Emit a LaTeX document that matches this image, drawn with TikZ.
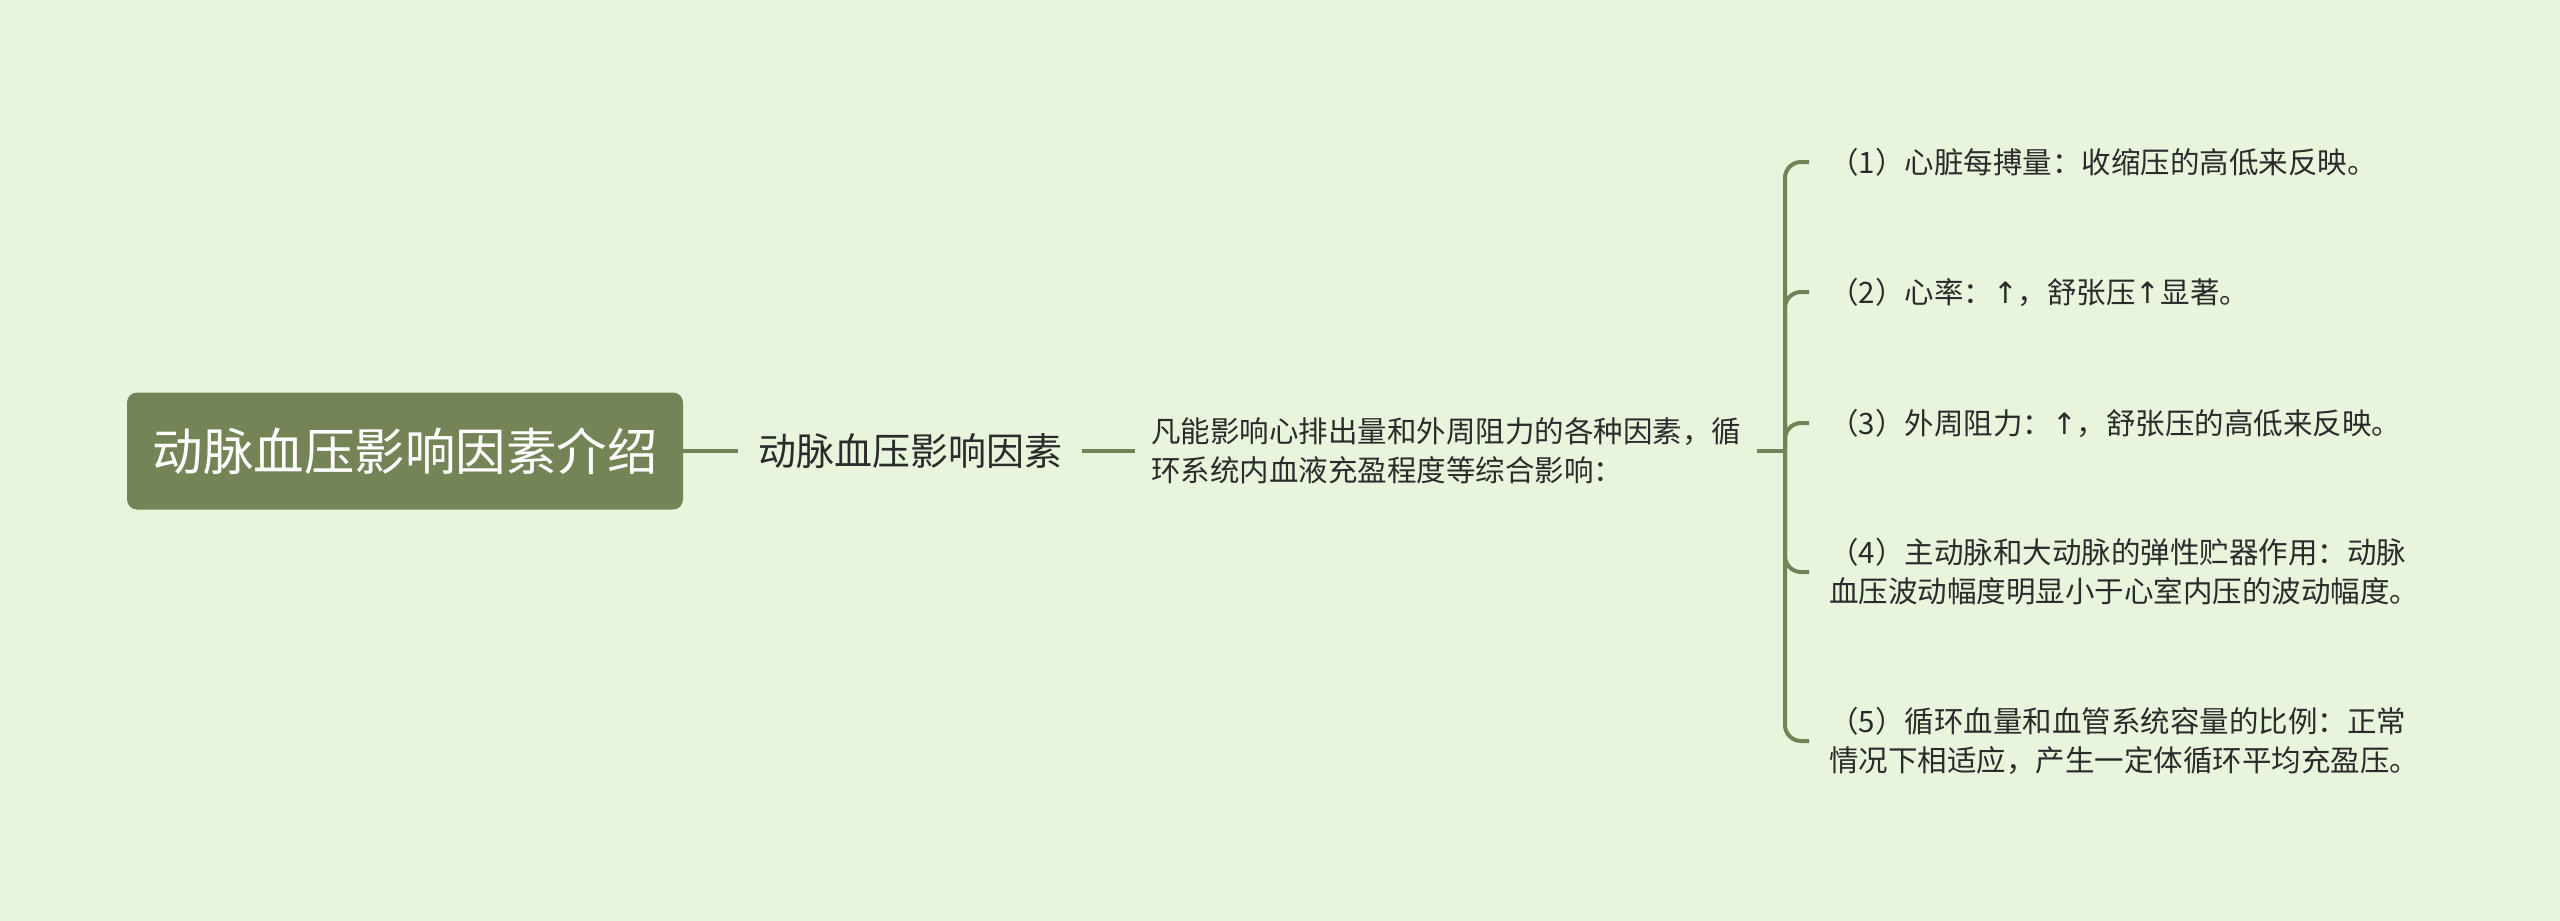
\documentclass[tikz,border=0pt]{standalone}
\usepackage{fontspec}
\setmainfont{Noto Sans CJK SC}
\newfontfamily\arrfont{DejaVu Sans}
\newcommand{\uparr}{{\arrfont ↑}}
\definecolor{bgc}{HTML}{E8F5DC}
\definecolor{lineg}{HTML}{738356}
\definecolor{boxg}{HTML}{748456}
\definecolor{txt}{HTML}{2B2B2B}
\begin{document}
\begin{tikzpicture}[x=1pt,y=-1pt,
  conn/.style={draw=lineg, line width=3.5pt},
  brc/.style={draw=lineg, line width=4pt, rounded corners=16pt},
  leaf/.style={anchor=west, inner xsep=20pt, inner ysep=0pt, font=\fontsize{29.5}{39}\selectfont, text=txt, align=left},
]
\useasboundingbox (0,0) rectangle (2560,921);
\fill[bgc] (0,0) rectangle (2560,921);
\node[fill=boxg, rounded corners=10pt, minimum width=556pt, minimum height=117pt, text=white,
      font=\fontsize{50.5}{60}\selectfont, inner sep=0pt] (root) at (405,451) {动脉血压影响因素介绍};
\node[font=\fontsize{38}{46}\selectfont, text=txt, inner xsep=20pt, inner ysep=0pt] (sub) at (910,451) {动脉血压影响因素};
\node[anchor=west, inner xsep=16pt, inner ysep=0pt, font=\fontsize{29.5}{39}\selectfont, text=txt, align=left] (mid) at (1135,451)
  {凡能影响心排出量和外周阻力的各种因素，循\\环系统内血液充盈程度等综合影响：};
\coordinate (j) at (1785,451);
\node[leaf] (l1) at (1809,162) {（1）心脏每搏量：收缩压的高低来反映。};
\node[leaf] (l2) at (1809,292) {（2）心率：\uparr，舒张压\uparr 显著。};
\node[leaf] (l3) at (1809,423) {（3）外周阻力：\uparr，舒张压的高低来反映。};
\node[leaf] (l4) at (1809,572) {（4）主动脉和大动脉的弹性贮器作用：动脉\\血压波动幅度明显小于心室内压的波动幅度。};
\node[leaf] (l5) at (1809,741) {（5）循环血量和血管系统容量的比例：正常\\情况下相适应，产生一定体循环平均充盈压。};
\draw[conn] (root.east) -- (sub.west);
\draw[conn] (sub.east) -- (mid.west);
\draw[conn] (mid.east) -- (j);
\foreach \n in {l1,l2,l3,l4,l5} \draw[brc] (j) |- (\n.west);
\end{tikzpicture}
\end{document}
